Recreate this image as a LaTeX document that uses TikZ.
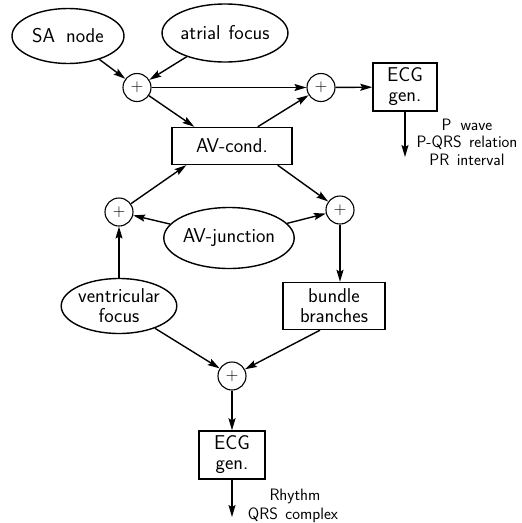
\documentclass[tikz,border=0pt]{standalone}
\usepackage{fontspec}
\usetikzlibrary{shapes.geometric,arrows.meta}
\begin{document}
\begin{tikzpicture}[x=1pt,y=-1pt,
  font=\sffamily\fontsize{20}{20}\selectfont,
  line width=1.4pt,
  ell/.style={draw,ellipse,inner sep=0pt,align=center},
  box/.style={draw,rectangle,inner sep=0pt,align=center},
  sum/.style={draw,circle,minimum size=28pt,inner sep=0pt,line width=1.1pt,
    font=\fontsize{18}{18}\selectfont},
  arr/.style={-{Stealth[length=12pt,width=7pt,inset=2pt]}},
  lab/.style={align=center,font=\sffamily\fontsize{16.5}{17.5}\selectfont}]
\useasboundingbox (0,0) rectangle (522,523);
\node[ell,minimum width=112pt,minimum height=55pt] (sa) at (68,36) {SA\hspace{0.55em}node};
\node[ell,minimum width=106pt,minimum height=58pt] (af) at (225,33) {atrial\hspace{0.4em}focus};
\node[sum] (p1) at (137,87.5) {$+$};
\node[sum] (p2) at (321,87.5) {$+$};
\node[box,minimum width=64pt,minimum height=48pt] (ecg1) at (405,87) {ECG\\gen.};
\node[box,minimum width=120pt,minimum height=37pt] (av) at (232,146) {AV-cond.};
\node[sum] (p3) at (119,212) {$+$};
\node[sum] (p4) at (340,210) {$+$};
\node[ell,minimum width=121pt,minimum height=61pt] (avj) at (229,238) {AV-junction};
\node[ell,minimum width=113pt,minimum height=55pt] (vf) at (119,306) {ventricular\\focus};
\node[box,minimum width=102pt,minimum height=47pt] (bb) at (334,306) {bundle\\branches};
\node[sum] (p5) at (232,376) {$+$};
\node[box,minimum width=66pt,minimum height=48pt] (ecg2) at (232,455) {ECG\\gen.};
\coordinate (e1) at (405,157);
\coordinate (e2) at (232,517);
\node[lab,anchor=north] (l1) at (467,115) {P\hspace{0.55em}wave\\P-QRS\hspace{0.45em}relation\\PR\hspace{0.45em}interval};
\node[lab] (l2) at (295,496) {Rhythm};
\node[lab] (l3) at (293,515) {QRS\hspace{0.45em}complex};
\draw[arr] (sa) -- (p1);
\draw[arr] (af) -- (p1);
\draw[arr] (p1) -- (p2);
\draw[arr] (p1) -- ([xshift=23pt]av.north west);
\draw[arr] ([xshift=-35pt]av.north east) -- (p2);
\draw[arr] (p2) -- (ecg1);
\draw[arr] (ecg1) -- (e1);
\draw[arr] (p3) -- ([xshift=15pt]av.south west);
\draw[arr] ([xshift=-15pt]av.south east) -- (p4);
\draw[arr] (avj) -- (p3);
\draw[arr] (avj) -- (p4);
\draw[arr] (vf) -- (p3);
\draw[arr] (p4) -- (p4 |- bb.north);
\draw[arr] (vf) -- (p5);
\draw[arr] ([xshift=-14pt]bb.south) -- (p5);
\draw[arr] (p5) -- (ecg2);
\draw[arr] (ecg2) -- (e2);
\end{tikzpicture}
\end{document}
